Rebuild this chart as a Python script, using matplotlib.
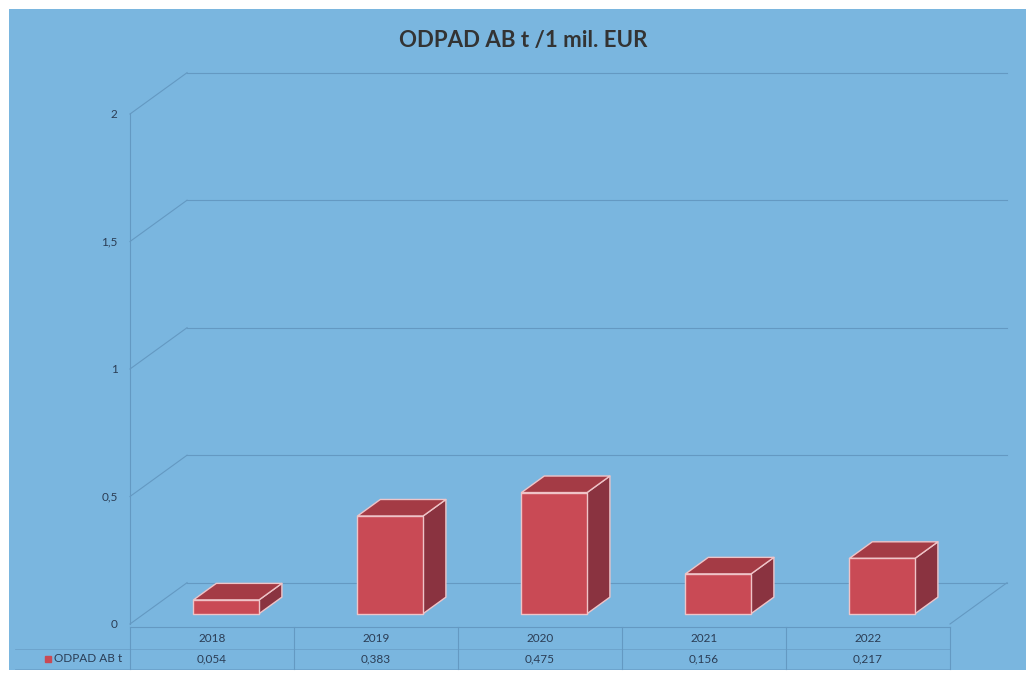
import numpy as np
import matplotlib.pyplot as plt
from matplotlib.patches import Polygon, Rectangle

plt.rcParams['font.family'] = ['Lato', 'DejaVu Sans']

years = ['2018', '2019', '2020', '2021', '2022']
values = [0.054, 0.383, 0.475, 0.156, 0.217]
value_labels = ['0,054', '0,383', '0,475', '0,156', '0,217']
series_name = 'ODPAD AB t'
title = 'ODPAD AB t /1 mil. EUR'
yticks = [0, 0.5, 1, 1.5, 2]
ytick_labels = ['0', '0,5', '1', '1,5', '2']

bg = '#7ab6df'
grid_c = '#6499c2'
txt_c = '#2b3d55'
front_c = '#c94a55'
top_c = '#a43b45'
side_c = '#8a3340'

# oblique depth offset (data units) and bar placement inside the depth
DX, DY = 0.348, 0.162
f0, f1 = 0.25, 0.65
bw = 0.4

fig = plt.figure(figsize=(10.26, 6.76), dpi=100, facecolor='white')
ax = fig.add_axes([0, 0, 1, 1])
ax.set_xlim(-130 / 164, (1026 - 130) / 164)
ax.set_ylim(-52 / 255, 624 / 255)
ax.axis('off')

# blue chart area (scan leaves a white border top/left/bottom)
ax.add_patch(Rectangle((-121 / 164, -46 / 255), 6.3, (615 + 46) / 255,
                       facecolor=bg, edgecolor='none', zorder=0))

# walls: gridlines and floor
for v in yticks:
    ax.plot([0, DX], [v, v + DY], color=grid_c, lw=0.8, zorder=1)
    ax.plot([DX, 5 + DX], [v + DY, v + DY], color=grid_c, lw=0.8, zorder=1)
ax.plot([0, 0], [0, 2], color=grid_c, lw=0.8, zorder=1)
ax.plot([5, 5 + DX], [0, DY], color=grid_c, lw=0.8, zorder=1)

for v, lab in zip(yticks, ytick_labels):
    ax.text(-0.075, v, lab, ha='right', va='center', fontsize=8.5, color=txt_c)

# 3D bars
for i, v in enumerate(values):
    x0 = i + 0.5 - bw / 2 + f0 * DX
    y0 = f0 * DY
    d = (f1 - f0)
    ddx, ddy = d * DX, d * DY
    front = [(x0, y0), (x0 + bw, y0), (x0 + bw, y0 + v), (x0, y0 + v)]
    top = [(x0, y0 + v), (x0 + bw, y0 + v), (x0 + bw + ddx, y0 + v + ddy), (x0 + ddx, y0 + v + ddy)]
    side = [(x0 + bw, y0), (x0 + bw + ddx, y0 + ddy), (x0 + bw + ddx, y0 + v + ddy), (x0 + bw, y0 + v)]
    for pts, c in [(side, side_c), (top, top_c), (front, front_c)]:
        ax.add_patch(Polygon(pts, closed=True, facecolor=c, edgecolor='#efc4c8',
                             lw=1.0, joinstyle='round', zorder=3))

# data table
r0, r1, r2 = -0.012, -0.098, -0.175
ax.plot([0, 5], [r0, r0], color=grid_c, lw=0.8)
ax.plot([-0.7, 5], [r1, r1], color=grid_c, lw=0.6, alpha=0.7)
ax.plot([-0.7, 5], [r2, r2], color=grid_c, lw=0.6, alpha=0.7)
for k in range(6):
    ax.plot([k, k], [r0, r2], color=grid_c, lw=0.8)
for i, (y, lab) in enumerate(zip(years, value_labels)):
    ax.text(i + 0.5, (r0 + r1) / 2, y, ha='center', va='center', fontsize=8.5, color=txt_c)
    ax.text(i + 0.5, (r1 + r2) / 2, lab, ha='center', va='center', fontsize=8.5, color=txt_c)
ax.plot([-0.5], [(r1 + r2) / 2], marker='s', ms=4.5, color=front_c, ls='none')
ax.text(-0.465, (r1 + r2) / 2, series_name, ha='left', va='center', fontsize=8.5, color=txt_c)

ax.text(2.4, 2.29, title, ha='center', va='center', fontsize=16,
        fontweight='bold', color='#333333')

fig.savefig('out.png', dpi=100, facecolor='white')
